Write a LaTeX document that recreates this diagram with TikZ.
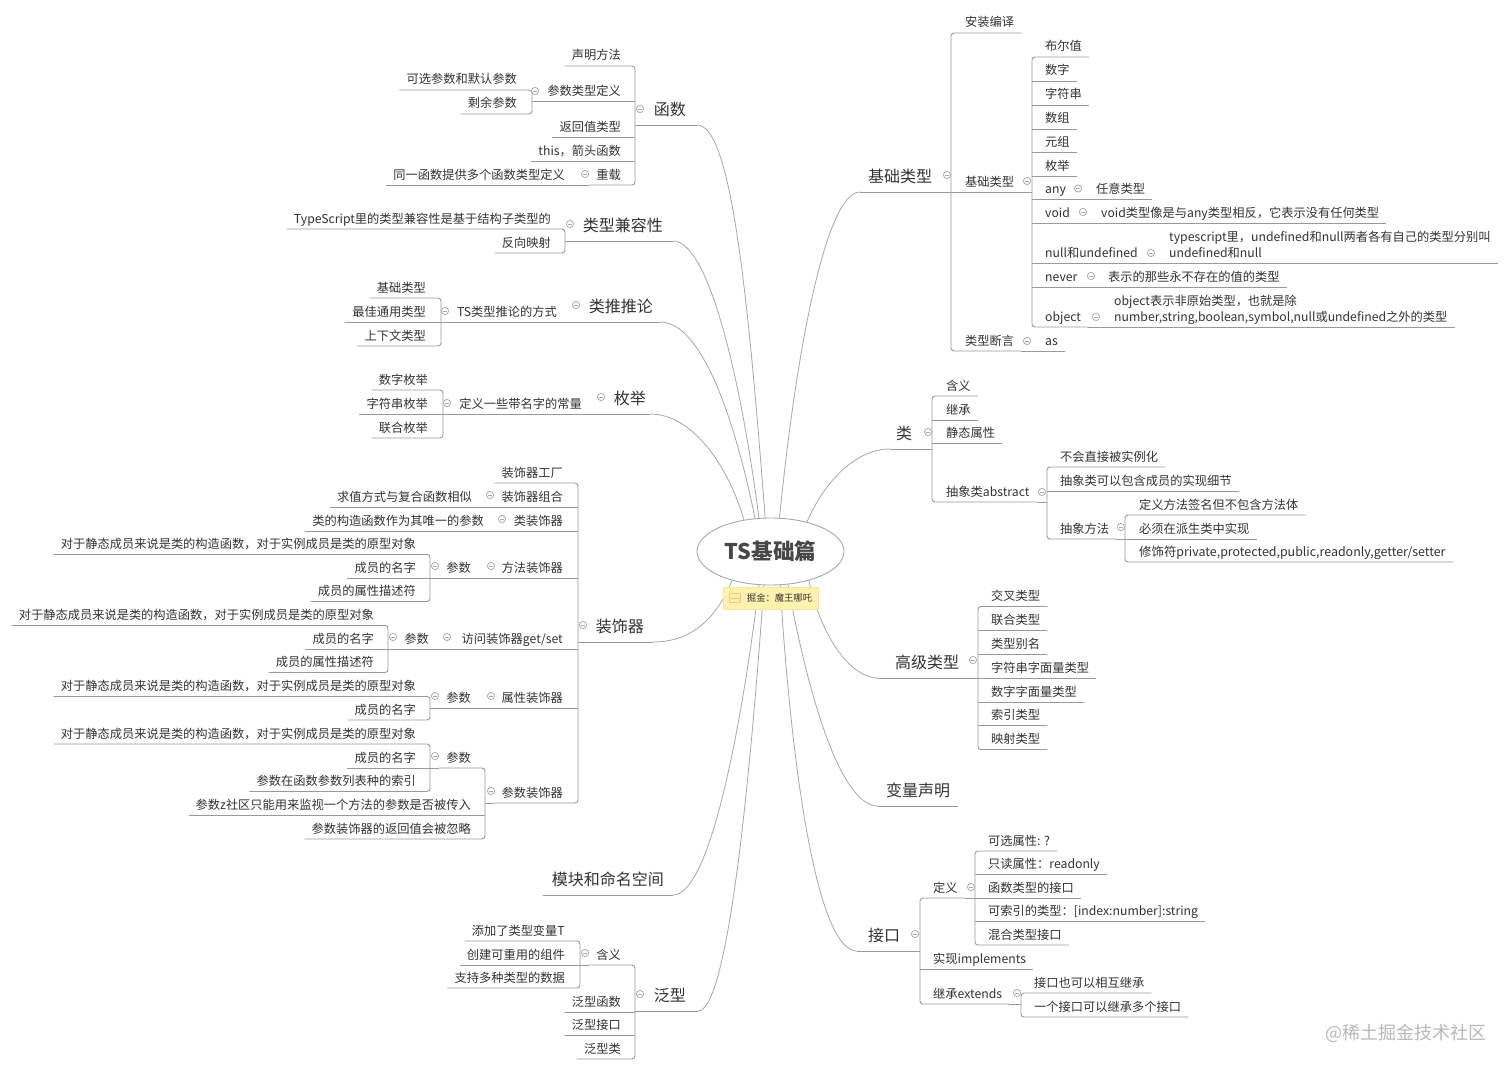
\documentclass[tikz,border=0pt]{standalone}
\usepackage{fontspec}
\setmainfont{Noto Sans CJK SC}
\usetikzlibrary{shapes.geometric,calc}
\definecolor{ink}{HTML}{333333}
\definecolor{rule}{HTML}{999999}
\definecolor{curve}{HTML}{A8A8A8}
\definecolor{mark}{HTML}{ABABAB}
\definecolor{notefill}{HTML}{FFF1AE}
\definecolor{noteedge}{HTML}{F6E59B}
\definecolor{noteicon}{HTML}{F4C67F}
\tikzset{
  lbase/.style={inner ysep=2.8pt,inner xsep=7pt,text height=10pt,text depth=3pt,text=ink,font=\fontsize{12.24}{16}\selectfont},
  ln/.style={lbase,anchor=south east},
  rn/.style={lbase,anchor=south west},
  tbase/.style={inner ysep=6.2pt,text height=13pt,text depth=3pt,text=ink,font=\fontsize{16}{20}\selectfont},
  tl/.style={tbase,anchor=south east},
  tr/.style={tbase,anchor=south west},
  rl/.style={draw=rule,line width=0.9pt},
  cv/.style={draw=curve,line width=0.8pt},
  mk/.style={draw=mark,line width=0.8pt}
}
% leaf nodes: text edge x, underline y
\newcommand\nL[4]{\node[ln] (#1) at ({#2+7},#3) {#4};}
\newcommand\nR[4]{\node[rn] (#1) at ({#2-7},#3) {#4};}
% topic nodes: text edge x, underline y, padding
\newcommand\tL[5]{\node[tl,inner xsep=#4pt] (#1) at ({#2+#4},#3) {#5};}
\newcommand\tR[5]{\node[tr,inner xsep=#4pt] (#1) at ({#2-#4},#3) {#5};}
% brackets
\newcommand\bL[5][]{%
  \draw[rl] (#2.south west) -- (#3,0 |- #2.south);
  \draw[rl,rounded corners=3pt] (#4.south west) -- (#3,0 |- #4.south) -- (#3,0 |- #5.south) -- (#5.south west);
  \def\tmpa{#1}\ifx\tmpa\empty\else\foreach \c in {#1} {\draw[rl] (#3,0 |- \c.south) -- (\c.south west);}\fi}
\newcommand\bR[5][]{%
  \draw[rl] (#2.south east) -- (#3,0 |- #2.south);
  \draw[rl,rounded corners=3pt] (#4.south east) -- (#3,0 |- #4.south) -- (#3,0 |- #5.south) -- (#5.south east);
  \def\tmpa{#1}\ifx\tmpa\empty\else\foreach \c in {#1} {\draw[rl] (#3,0 |- \c.south) -- (\c.south east);}\fi}
% chains
\newcommand\chL[2]{\draw[rl] (#1.south west) -- (#2.south west);}
\newcommand\chR[2]{\draw[rl] (#1.south east) -- (#2.south east);}
% curves from the root
\newcommand\cvL[4]{\draw[cv] (root.#2) .. controls (#3) and (#4) .. (#1.south east); \draw[rl] (#1.south east) -- (#1.south west);}
\newcommand\cvR[4]{\draw[cv] (root.#2) .. controls (#3) and (#4) .. (#1.south west); \draw[rl] (#1.south west) -- (#1.south east);}
% collapse marker
\newcommand\mk[2]{\draw[mk,fill=white] (#1,#2) circle (3.6pt); \draw[mk,line width=0.6pt] ({#1-2},#2) -- ({#1+2},#2);}
\newcommand\twoln[2]{\begin{tabular}[b]{@{}l@{}}#1\\#2\end{tabular}}
\begin{document}
\begin{tikzpicture}[x=1pt,y=-1pt]
\path[use as bounding box,fill=white] (0,0) rectangle (1512,1070);
\node[ellipse,draw=curve,line width=0.9pt,fill=white,minimum width=147pt,minimum height=67pt,inner sep=0pt,text=ink!90,font=\fontsize{21.6}{24}\selectfont\bfseries] (root) at (770.5,551.5) {\raisebox{-1.2pt}{TS基础篇}};

%%% LEFT
% functions
\tL{fn}{686}{125}{11}{函数}
\nL{fa}{621}{66}{声明方法}
\nL{fb}{621}{101.5}{参数类型定义}
\nL{fc}{621}{137.5}{返回值类型}
\nL{fd}{621}{161}{this，箭头函数}
\nL{fe}{621}{185}{重载}
\nL{fba}{517}{90}{可选参数和默认参数}
\nL{fbb}{517}{114}{剩余参数}
\nL{fea}{565}{185}{同一函数提供多个函数类型定义}
\bL[fb,fc,fd]{fn}{635}{fa}{fe}
\bL{fb}{532}{fba}{fbb}
\chL{fe}{fea}
\mk{640}{109}\mk{535}{91}\mk{585}{174}
% compatibility
\tL{cp}{663}{241}{10}{类型兼容性}
\nL{cpa}{551}{229}{TypeScript里的类型兼容性是基于结构子类型的}
\nL{cpb}{551}{253}{反向映射}
\bL{cp}{565}{cpa}{cpb}
\mk{570}{224}
% inference
\tL{inf}{653}{322}{7}{类推推论}
\nL{ts}{557}{322}{TS类型推论的方式}
\nL{tsa}{426}{298}{基础类型}
\nL{tsb}{426}{322}{最佳通用类型}
\nL{tsc}{426}{346}{上下文类型}
\chL{inf}{ts}
\bL[tsb]{ts}{441}{tsa}{tsc}
\mk{576}{305}\mk{445}{311}
% enum
\tL{en}{646}{414}{4}{枚举}
\nL{ena}{582}{414}{定义一些带名字的常量}
\nL{enb}{428}{390}{数字枚举}
\nL{enc}{428}{414}{字符串枚举}
\nL{end}{428}{438}{联合枚举}
\chL{en}{ena}
\bL[enc]{ena}{443}{enb}{end}
\mk{601}{397}\mk{447}{403}
% decorators
\tL{de}{644}{642}{9}{装饰器}
\nL{da}{563}{483}{装饰器工厂}
\nL{db}{563}{507}{装饰器组合}
\nL{dba}{472}{507}{求值方式与复合函数相似}
\nL{dc}{563}{531}{类装饰器}
\nL{dca}{484}{531}{类的构造函数作为其唯一的参数}
\nL{dd}{563}{578}{方法装饰器}
\nL{ddp}{471}{578}{参数}
\nL{dda}{416}{554.5}{对于静态成员来说是类的构造函数，对于实例成员是类的原型对象}
\nL{ddb}{416}{578}{成员的名字}
\nL{ddc}{416}{601.5}{成员的属性描述符}
\nL{dg}{563}{649}{访问装饰器get/set}
\nL{dgp}{429}{649}{参数}
\nL{dga}{374}{625.5}{对于静态成员来说是类的构造函数，对于实例成员是类的原型对象}
\nL{dgb}{374}{649}{成员的名字}
\nL{dgc}{374}{672.5}{成员的属性描述符}
\nL{dh}{563}{708}{属性装饰器}
\nL{dhp}{471}{708}{参数}
\nL{dha}{416}{696.5}{对于静态成员来说是类的构造函数，对于实例成员是类的原型对象}
\nL{dhb}{416}{720}{成员的名字}
\nL{di}{563}{803}{参数装饰器}
\nL{dip}{471}{768}{参数}
\nL{dia}{416}{744}{对于静态成员来说是类的构造函数，对于实例成员是类的原型对象}
\nL{dib}{416}{768}{成员的名字}
\nL{dic}{416}{791.5}{参数在函数参数列表种的索引}
\nL{diq}{471}{815.5}{参数z社区只能用来监视一个方法的参数是否被传入}
\nL{dir}{471}{839}{参数装饰器的返回值会被忽略}
\bL[db,dc,dd,dg,dh]{de}{578}{da}{di}
\chL{db}{dba}\chL{dc}{dca}\chL{dd}{ddp}\chL{dg}{dgp}\chL{dh}{dhp}
\bL[ddb]{ddp}{430}{dda}{ddc}
\bL[dgb]{dgp}{388}{dga}{dgc}
\bL{dhp}{430}{dha}{dhb}
\bL[diq]{di}{485}{dip}{dir}
\bL[dib]{dip}{430}{dia}{dic}
\mk{583}{625}\mk{490}{495}\mk{502}{519}\mk{491}{566}\mk{435}{566}
\mk{447}{637}\mk{393}{637}\mk{491}{696}\mk{435}{696}\mk{491}{791}\mk{435}{756}
% modules
\tL{mo}{664}{895}{9}{模块和命名空间}
% generics
\tL{ge}{686}{1011}{12}{泛型}
\nL{gea}{621}{965}{含义}
\nL{geb}{565}{941}{添加了类型变量T}
\nL{gec}{565}{965}{创建可重用的组件}
\nL{ged}{565}{988}{支持多种类型的数据}
\nL{gee}{621}{1012}{泛型函数}
\nL{gef}{621}{1035}{泛型接口}
\nL{geg}{621}{1059}{泛型类}
\bL[gee,gef]{ge}{635}{gea}{geg}
\bL[gec]{gea}{580}{geb}{ged}
\mk{640}{994}\mk{585}{953}

%%% RIGHT
% basics
\tR{ba}{868}{192}{8}{基础类型}
\nR{baa}{965}{33}{安装编译}
\nR{bab}{965}{192}{基础类型}
\nR{bac}{965}{351}{类型断言}
\nR{bas}{1045}{351}{as}
\nR{b1}{1045}{57}{布尔值}
\nR{b2}{1045}{81}{数字}
\nR{b3}{1045}{105}{字符串}
\nR{b4}{1045}{129}{数组}
\nR{b5}{1045}{152.5}{元组}
\nR{b6}{1045}{176}{枚举}
\nR{b7}{1045}{199}{any}
\nR{b7a}{1096}{199}{任意类型}
\nR{b8}{1045}{223}{void}
\nR{b8a}{1101}{223}{void类型像是与any类型相反，它表示没有任何类型}
\nR{b9}{1045}{263}{null和undefined}
\nR{b9a}{1169}{263}{\twoln{typescript里，undefined和null两者各有自己的类型分别叫}{undefined和null}}
\nR{b10}{1045}{287}{never}
\nR{b10a}{1108}{287}{表示的那些永不存在的值的类型}
\nR{b11}{1045}{327}{object}
\nR{b11a}{1114}{327}{\twoln{object表示非原始类型，也就是除}{number,string,boolean,symbol,null或undefined之外的类型}}
\bR[bab]{ba}{951}{baa}{bac}
\bR[b2,b3,b4,b5,b6,b7,b8,b9,b10]{bab}{1032}{b1}{b11}
\chR{bac}{bas}\chR{b7}{b7a}\chR{b8}{b8a}\chR{b9}{b9a}\chR{b10}{b10a}\chR{b11}{b11a}
\mk{947}{175}\mk{1027}{181}\mk{1027}{341}\mk{1078}{188.5}\mk{1083}{212}\mk{1151}{253}\mk{1091}{276}\mk{1096}{317}
% class
\tR{cl}{896}{449}{6}{类}
\nR{cla}{946}{396}{含义}
\nR{clb}{946}{420}{继承}
\nR{clc}{946}{443}{静态属性}
\nR{cld}{946}{502}{抽象类abstract}
\nR{cle}{1060}{467}{不会直接被实例化}
\nR{clf}{1060}{491}{抽象类可以包含成员的实现细节}
\nR{clg}{1060}{539}{抽象方法}
\nR{clh}{1139}{515}{定义方法签名但不包含方法体}
\nR{cli}{1139}{539}{必须在派生类中实现}
\node[rn,font=\fontsize{12.42}{16}\selectfont,inner xsep=8pt] (clj) at (1131,562) {修饰符private,protected,public,readonly,getter/setter};
\bR[cli]{clg}{1125}{clh}{clj}
\bR[clb,clc]{cl}{932}{cla}{cld}
\bR[clf]{cld}{1047}{cle}{clg}
\mk{928}{432}\mk{1042}{492}\mk{1121}{527}
% advanced
\tR{ad}{895}{678}{17}{高级类型}
\nR{ada}{991}{606.5}{交叉类型}
\nR{adb}{991}{630.5}{联合类型}
\nR{adc}{991}{654}{类型别名}
\nR{add}{991}{678}{字符串字面量类型}
\nR{ade}{991}{702}{数字字面量类型}
\nR{adf}{991}{725.5}{索引类型}
\nR{adg}{991}{749.5}{映射类型}
\bR[adb,adc,add,ade,adf]{ad}{978}{ada}{adg}
\mk{973}{660}
% variables
\tR{va}{886}{806}{8}{变量声明}
% interface
\tR{it}{868}{951}{11}{接口}
\nR{ita}{933}{898}{定义}
\nR{itb}{988}{851}{可选属性: ?}
\nR{itc}{988}{874}{只读属性：readonly}
\nR{itd}{988}{898}{函数类型的接口}
\nR{ite}{988}{921}{可索引的类型：[index:number]:string}
\nR{itf}{988}{945}{混合类型接口}
\nR{itg}{933}{969}{实现implements}
\nR{ith}{933}{1004}{继承extends}
\nR{iti}{1034}{993}{接口也可以相互继承}
\nR{itj}{1034}{1017}{一个接口可以继承多个接口}
\bR[itg]{it}{920}{ita}{ith}
\bR[itc,itd,ite]{ita}{975}{itb}{itf}
\bR{ith}{1021}{iti}{itj}
\mk{915}{934}\mk{971}{887}\mk{1017}{993}

%%% CURVES
\cvL{fn}{99.4}{747,280}{730,125}
\cvL{cp}{109}{741,380}{709,241}
\cvL{inf}{115.4}{735,420}{702,322}
\cvL{en}{130.3}{728,465}{692,414}
\cvL{de}{217}{716,620}{690,642}
\cvL{mo}{251}{745,700}{713,895}
\cvL{ge}{259}{750,780}{728,1011}
\cvR{ba}{75.6}{795,360}{825,192}
\cvR{cl}{39.5}{826,478}{858,449}
\cvR{ad}{323}{818,625}{845,677}
\cvR{va}{298}{805,680}{838,806}
\cvR{it}{286}{790,750}{815,951}

%%% NOTE
\node[draw=noteedge,fill=notefill,line width=0.7pt,inner sep=0pt,minimum width=95pt,minimum height=22pt,text=ink,font=\fontsize{9.3}{11}\selectfont] (note) at (770.5,598) {\hspace*{18pt}掘金：魔王哪吒};
\draw[noteicon,line width=0.8pt,rounded corners=1pt] (729.5,593.5) rectangle (740.5,602.5);
\draw[noteicon,line width=0.8pt] (729.5,598) -- (740.5,598);

%%% WATERMARK
\node[text=black!28,anchor=west,inner sep=0pt,font=\fontsize{18}{20}\selectfont] (wm) at (1325,1033) {@稀土掘金技术社区};
\end{tikzpicture}
\end{document}
